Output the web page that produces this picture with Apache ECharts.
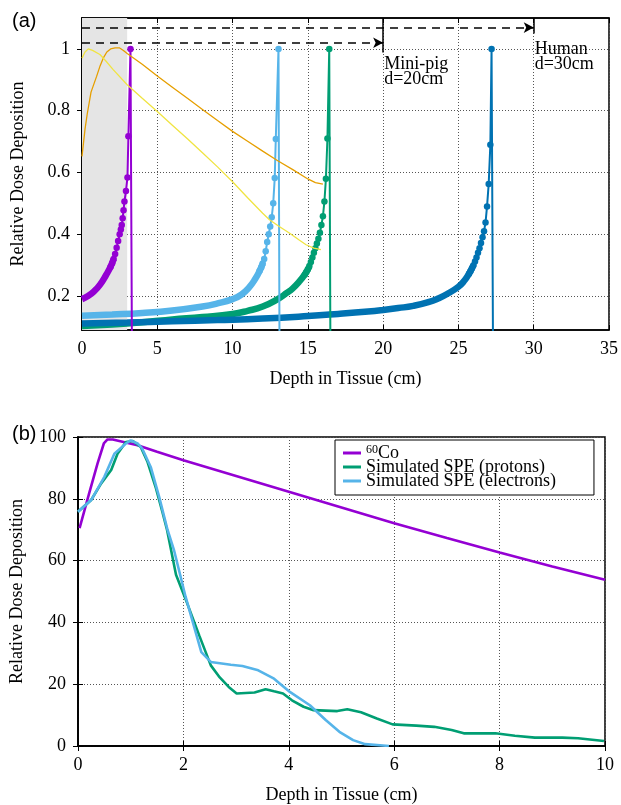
<!DOCTYPE html>
<html><head><meta charset="utf-8">
<script src="https://cdn.jsdelivr.net/npm/echarts@6/dist/echarts.min.js"></script>
<style>html,body{margin:0;padding:0;background:#fff}#c{width:621px;height:805px}</style>
</head><body><div id="c"></div>
<script>
// ---------- Panel (a) ----------
const topYTicks = [0.2, 0.4, 0.6, 0.8, 1];
const shadedDepth = 3;
const arrowTargets = [20, 30];
const arrowLevels = [1.02, 1.069];
const arrowBarEnds = [0.988, 1.05];
const annotationLabels = ['Mini-pig\nd=20cm', 'Human\nd=30cm'];
const annotationLevels = [0.925, 0.975];

const purpleBand = [[0,0.19],[0.4,0.2],[0.8,0.215],[1.2,0.237],[1.6,0.268],[1.9,0.295],[2.1,0.32]];
const purplePeak = [[1.9,0.295],[2.0,0.306],[2.1,0.32],[2.2,0.336],[2.3,0.356],[2.4,0.378],[2.5,0.4],[2.58,0.415],[2.64,0.43],[2.7,0.452],[2.76,0.478],[2.82,0.506],[2.92,0.54],[3.02,0.584],[3.08,0.717],[3.22,1.0],[3.32,0]];

const lightBlueBand = [[0,0.136],[2,0.14],[4,0.145],[6,0.153],[8,0.166],[9,0.176],[10,0.19],[10.6,0.205],[11.1,0.228],[11.5,0.255],[11.8,0.282],[12.0,0.305]];
const lightBluePeak = [[11.8,0.282],[11.9,0.292],[12.0,0.305],[12.1,0.32],[12.2,0.345],[12.3,0.375],[12.4,0.4],[12.5,0.425],[12.6,0.455],[12.7,0.5],[12.8,0.582],[12.87,0.708],[13.05,1.0],[13.12,0]];

const greenBand = [[0,0.103],[2,0.108],[4,0.115],[6,0.124],[8,0.132],[10,0.142],[11,0.152],[12,0.166],[13,0.19],[13.6,0.21],[14,0.225],[14.4,0.245],[14.8,0.27],[15.1,0.295]];
const greenPeak = [[14.8,0.27],[14.9,0.278],[15.0,0.287],[15.1,0.297],[15.2,0.31],[15.3,0.325],[15.4,0.34],[15.5,0.355],[15.6,0.37],[15.7,0.385],[15.8,0.405],[15.9,0.43],[16.0,0.458],[16.1,0.506],[16.2,0.58],[16.3,0.71],[16.42,1.0],[16.5,0]];

const darkBlueBand = [[0,0.111],[3,0.114],[6,0.118],[9,0.122],[12,0.127],[15,0.135],[17,0.142],[19,0.15],[20,0.155],[21,0.161],[22,0.168],[23,0.18],[23.7,0.193],[24.3,0.208],[25,0.23],[25.4,0.25],[25.7,0.272],[26.0,0.3]];
const darkBluePeak = [[25.7,0.272],[25.8,0.28],[25.9,0.29],[26.0,0.3],[26.1,0.312],[26.2,0.325],[26.3,0.34],[26.4,0.355],[26.5,0.372],[26.6,0.39],[26.7,0.41],[26.8,0.438],[26.9,0.49],[27.01,0.563],[27.12,0.69],[27.2,1.0],[27.3,0]];

const orangeDose = [[0,0.652],[0.2,0.74],[0.35,0.79],[0.6,0.86],[0.97,0.911],[1.2,0.945],[1.41,0.97],[1.65,0.99],[1.9,1.0],[2.2,1.003],[2.5,1.003],[2.75,0.995],[3,0.985],[4,0.95],[5,0.912],[6,0.876],[7,0.84],[8,0.804],[9,0.768],[10,0.733],[11,0.701],[12,0.669],[13,0.638],[14,0.609],[15,0.579],[15.5,0.567],[16,0.562]];
const yellowDose = [[0,0.97],[0.2,0.99],[0.42,1.0],[0.7,0.995],[1.19,0.982],[1.6,0.96],[2.07,0.933],[3,0.884],[4,0.84],[5,0.797],[6,0.753],[7,0.709],[8,0.664],[9,0.618],[10,0.57],[11,0.518],[12,0.468],[12.45,0.447],[13.1,0.425],[13.77,0.404],[14.4,0.382],[14.88,0.366],[15.4,0.355],[15.87,0.35]];

// ---------- Panel (b) ----------
const legendNames = ['60Co', 'Simulated SPE (protons)', 'Simulated SPE (electrons)'];
const coDose = [[0.03,70.5],[0.21,81.7],[0.37,91.4],[0.49,97.9],[0.56,99.2],[0.66,99.2],[1.13,97.3],[1.5,95.2],[2,92.5],[3,87.4],[4,82.3],[5,77.2],[6,72.1],[7,67.3],[8,62.6],[9,58.1],[10,53.8]];
const speProtons = [[0,75.8],[0.25,79.6],[0.44,85],[0.63,89.3],[0.75,94.6],[0.91,98.4],[1.04,98.7],[1.19,96.8],[1.32,91.9],[1.48,83.4],[1.6,75.8],[1.69,69.9],[1.86,55.4],[2.04,47.6],[2.3,35.8],[2.52,26.1],[2.69,22.2],[2.86,19.1],[3.01,17.0],[3.35,17.3],[3.56,18.4],[3.72,17.7],[3.89,17.0],[4.06,14.8],[4.28,12.7],[4.47,11.6],[4.92,11.3],[5.11,11.9],[5.37,10.9],[5.67,8.9],[5.97,7.0],[6.42,6.6],[6.76,6.2],[7.09,5.2],[7.32,4.1],[7.92,4.1],[8.29,3.3],[8.67,2.7],[9.19,2.7],[9.49,2.5],[9.98,1.6]];
const speElectrons = [[0,75.8],[0.25,79.6],[0.5,87.1],[0.69,94.6],[0.91,97.9],[1.0,98.9],[1.13,97.9],[1.22,96.2],[1.38,90.3],[1.54,80.6],[1.7,69.9],[1.82,63.5],[2.04,48.4],[2.34,30.4],[2.52,27.2],[2.9,26.3],[3.12,25.9],[3.42,24.5],[3.72,21.8],[4.02,17.5],[4.4,13.2],[4.7,8.4],[4.96,4.6],[5.22,1.9],[5.45,0.6],[5.9,0]];

// ---------- styles ----------
const SERIF = 'Liberation Serif';
const C = {purple:'#9400d3', green:'#009e73', lblue:'#56b4e9', dblue:'#0072b2', orange:'#e69f00', yellow:'#f0e442'};
const gridLine = {show:true, lineStyle:{color:'#555', type:[1,2], width:1}};
const lbl = {fontFamily:SERIF, fontSize:18, color:'#000'};

function mainX(gi, min, max, interval, gap) {
  return {gridIndex:gi, type:'value', min, max, interval,
    axisLine:{show:true, lineStyle:{color:'#000', width:1.5}},
    axisTick:{show:true, inside:true, length:5, lineStyle:{color:'#000'}},
    axisLabel:Object.assign({margin:10}, lbl),
    splitLine:gridLine,
    name:'Depth in Tissue (cm)', nameLocation:'middle', nameGap:gap, nameTextStyle:lbl};
}
function mirrorX(gi, min, max, interval) {
  return {gridIndex:gi, type:'value', position:'top', min, max, interval,
    axisLine:{show:true, lineStyle:{color:'#000', width:1.5}},
    axisTick:{show:true, inside:true, length:5, lineStyle:{color:'#000'}},
    axisLabel:{show:false}, splitLine:{show:false}};
}

const band = (data, color, xi, yi) => ({type:'line', data, xAxisIndex:xi, yAxisIndex:yi, smooth:true, symbol:'none',
  lineStyle:{color, width:6.5}, z:3, silent:true});
const peak = (data, color, xi, yi) => ({type:'line', data, xAxisIndex:xi, yAxisIndex:yi, symbol:'circle', symbolSize:6.5,
  showAllSymbol:true, itemStyle:{color}, lineStyle:{color, width:2}, z:4, silent:true});
const thin = (data, color) => ({type:'line', data, xAxisIndex:0, yAxisIndex:0, symbol:'none', lineStyle:{color, width:1.3}, z:5, silent:true});

const dashStyle = {color:'#000', width:1.5, type:[8,6]};
const solidStyle = {color:'#000', width:1.5, type:'solid'};

const helper = {
  type:'line', data:[], xAxisIndex:0, yAxisIndex:0, z:1, silent:true,
  markArea:{silent:true, itemStyle:{color:'#e5e5e5'}, data:[[{xAxis:0},{xAxis:shadedDepth}]]},
  markLine:{silent:true, animation:false, label:{show:false}, symbol:['none','none'],
    data:[
      [{xAxis:shadedDepth, lineStyle:{color:'#000', width:1.2, type:'solid'}, symbol:'none'}, {xAxis:shadedDepth, symbol:'none'}],
      [{coord:[0, arrowLevels[0]], symbol:'none', lineStyle:dashStyle}, {coord:[arrowTargets[0], arrowLevels[0]], symbol:'arrow', symbolSize:[8,10], lineStyle:dashStyle}],
      [{coord:[0, arrowLevels[1]], symbol:'none', lineStyle:dashStyle}, {coord:[arrowTargets[1], arrowLevels[1]], symbol:'arrow', symbolSize:[8,10], lineStyle:dashStyle}],
      [{coord:[arrowTargets[0], 1.1], symbol:'none', lineStyle:solidStyle}, {coord:[arrowTargets[0], arrowBarEnds[0]], symbol:'none', lineStyle:solidStyle}],
      [{coord:[arrowTargets[1], 1.1], symbol:'none', lineStyle:solidStyle}, {coord:[arrowTargets[1], arrowBarEnds[1]], symbol:'none', lineStyle:solidStyle}]
    ]},
  markPoint:{silent:true, symbol:'circle', symbolSize:0,
    label:{show:true, position:'right', distance:1, fontFamily:SERIF, fontSize:18, lineHeight:15, color:'#000',
      formatter:p => p.name},
    data:[
      {name:annotationLabels[0], coord:[arrowTargets[0], annotationLevels[0]]},
      {name:annotationLabels[1], coord:[arrowTargets[1], annotationLevels[1]]}
    ]}
};

const chart = echarts.init(document.getElementById('c'), null, {renderer:'canvas'});
chart.setOption({
  animation:false,
  backgroundColor:'#fff',
  title:[
    {text:'(a)', left:7, top:6, textStyle:{fontFamily:'Liberation Sans', fontSize:20, fontWeight:'normal', color:'#000'}},
    {text:'(b)', left:7, top:419, textStyle:{fontFamily:'Liberation Sans', fontSize:20, fontWeight:'normal', color:'#000'}}
  ],
  grid:[
    {left:82, right:10, top:18, height:312, show:true, borderColor:'#000', borderWidth:1.5},
    {left:77, right:16, top:437, height:310, show:true, borderColor:'#000', borderWidth:1.5}
  ],
  xAxis:[
    mainX(0, 0, 35, 5, 40), mirrorX(0, 0, 35, 5),
    mainX(1, 0, 10, 2, 40), mirrorX(1, 0, 10, 2)
  ],
  yAxis:[
    {gridIndex:0, type:'value', min:0.09, max:1.1,
      axisLine:{show:true, lineStyle:{color:'#000', width:1.5}},
      axisTick:{show:true, inside:true, length:5, customValues:topYTicks, lineStyle:{color:'#000'}},
      axisLabel:Object.assign({margin:12, customValues:topYTicks}, lbl),
      splitLine:gridLine,
      name:'Relative Dose Deposition', nameLocation:'middle', nameGap:55, nameTextStyle:lbl},
    {gridIndex:0, type:'value', min:0.09, max:1.1, position:'right',
      axisLine:{show:true, lineStyle:{color:'#000', width:1.5}},
      axisTick:{show:true, inside:true, length:5, customValues:topYTicks, lineStyle:{color:'#000'}},
      axisLabel:{show:false, customValues:topYTicks}, splitLine:{show:false}},
    {gridIndex:1, type:'value', min:0, max:100, interval:20,
      axisLine:{show:true, lineStyle:{color:'#000', width:1.5}},
      axisTick:{show:true, inside:true, length:5, lineStyle:{color:'#000'}},
      axisLabel:Object.assign({margin:12}, lbl),
      splitLine:gridLine,
      name:'Relative Dose Deposition', nameLocation:'middle', nameGap:52, nameTextStyle:lbl},
    {gridIndex:1, type:'value', min:0, max:100, interval:20, position:'right',
      axisLine:{show:true, lineStyle:{color:'#000', width:1.5}},
      axisTick:{show:true, inside:true, length:5, lineStyle:{color:'#000'}},
      axisLabel:{show:false}, splitLine:{show:false}}
  ],
  legend:{
    show:true, orient:'vertical', left:335, top:440, data:legendNames,
    icon:'rect', itemWidth:18, itemHeight:3, itemGap:-4, padding:[4,38,5,8],
    borderColor:'#000', borderWidth:1, backgroundColor:'#fff', borderRadius:0,
    formatter:name => /^\d/.test(name) ? name.replace(/^(\d+)(.*)$/, '{sup|$1}{n|$2}') : '{n|' + name + '}',
    textStyle:{fontFamily:SERIF, fontSize:18, lineHeight:14, color:'#000',
      rich:{
        n:{fontFamily:SERIF, fontSize:18, lineHeight:14, color:'#000'},
        sup:{fontFamily:SERIF, fontSize:12, lineHeight:8, padding:[0,0,6,0], color:'#000'}
      }},
    selectedMode:false
  },
  series:[
    helper,
    band(purpleBand, C.purple, 0, 0), peak(purplePeak, C.purple, 0, 0),
    band(lightBlueBand, C.lblue, 0, 0), peak(lightBluePeak, C.lblue, 0, 0),
    band(greenBand, C.green, 0, 0), peak(greenPeak, C.green, 0, 0),
    band(darkBlueBand, C.dblue, 0, 0), peak(darkBluePeak, C.dblue, 0, 0),
    thin(orangeDose, C.orange), thin(yellowDose, C.yellow),
    {name:legendNames[0], type:'line', data:coDose, xAxisIndex:2, yAxisIndex:2, symbol:'none', lineStyle:{color:C.purple, width:2.6}, itemStyle:{color:C.purple}, z:3},
    {name:legendNames[1], type:'line', data:speProtons, xAxisIndex:2, yAxisIndex:2, symbol:'none', lineStyle:{color:C.green, width:2.6}, itemStyle:{color:C.green}, z:3},
    {name:legendNames[2], type:'line', data:speElectrons, xAxisIndex:2, yAxisIndex:2, symbol:'none', lineStyle:{color:C.lblue, width:2.6}, itemStyle:{color:C.lblue}, z:4}
  ]
});
</script></body></html>
